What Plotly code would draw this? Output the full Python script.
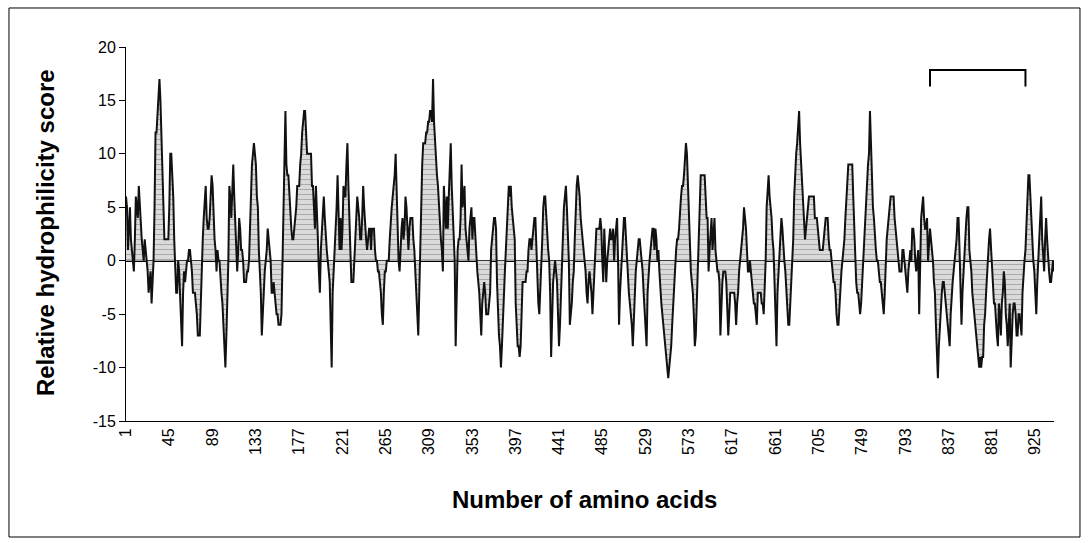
import plotly.graph_objects as go

# Relative hydrophilicity score per residue, in blocks
score_001_070 = [6, 5, 1, 3, 5, 2, 1, 0, -1, 2,
                 6, 5, 4, 7, 5, 4, 2, 1, 0, 2,
                 1, 0, -1, -3, -2, -1, -4, -2, 0, 5,
                 12, 12, 14, 15, 17, 15, 12, 9, 6, 2,
                 2, 2, 2, 2, 5, 10, 10, 8, 6, 2,
                 -2, -3, -3, 0, -1, -3, -5, -8, -3, -1,
                 -2, -1, 0, 0, 1, 1, 0, -1, -3, -3]
score_071_150 = [-3, -4, -5, -7, -7, -7, -4, 0, 2, 4,
                 6, 7, 4, 3, 3, 4, 6, 8, 7, 4,
                 2, 1, -1, 1, 0, 0, -2, -3, -4, -6,
                 -8, -10, -7, -4, 0, 7, 6, 4, 7, 9,
                 6, 4, 1, -1, 1, 4, 3, 1, 1, 0,
                 -2, -2, -2, -1, -1, 0, 4, 8, 9, 10,
                 11, 10, 9, 6, 5, 1, -1, -3, -7, -5,
                 -2, -1, 0, 1, 3, 2, 1, 0, -3, -3]
score_151_229 = [-2, -3, -4, -5, -5, -6, -6, -6, -5, 0,
                 5, 10, 14, 9, 8, 8, 6, 4, 3, 2,
                 2, 3, 4, 5, 7, 7, 7, 9, 10, 12,
                 13, 14, 14, 11, 10, 10, 10, 10, 10, 7,
                 7, 5, 3, 7, 5, 2, -1, -3, 1, 3,
                 5, 6, 4, 2, 1, 0, -1, -2, -6, -10,
                 -3, -1, 0, 2, 5, 8, 3, 1, 4, 1,
                 3, 7, 6, 6, 9, 11, 7, 3, -1]
score_230_311 = [-2, -2, -2, 0, 2, 3, 6, 5, 4, 2,
                 2, 4, 7, 5, 3, 2, 1, 2, 3, 3,
                 1, 3, 3, 3, 1, 0, 0, -1, -1, -2,
                 -3, -5, -6, -3, -1, -1, 0, 0, 0, 2,
                 4, 5, 6, 7, 8, 10, 6, 4, 0, -1,
                 2, 3, 4, 2, 3, 6, 5, 3, 1, 3,
                 4, 4, 4, 2, 1, -1, -3, -5, -7, -3,
                 0, 5, 9, 11, 11, 11, 12, 12, 13, 13, 14, 14]
score_312_391 = [13, 17, 13, 11, 9, 8, 7, 5, 4, 2,
                 1, -1, 7, 4, 3, 6, 3, 6, 9, 11,
                 7, 4, 1, 0, -8, -2, 1, 2, 2, 4,
                 9, 5, 6, 7, 3, 2, 1, 0, 3, 4,
                 5, 2, 4, 4, 2, 0, -1, -2, -3, -5,
                 -7, -4, -3, -2, -3, -5, -5, -5, -4, -3,
                 1, 2, 3, 4, 4, 3, -2, -5, -7, -8,
                 -10, -8, -5, -3, -1, 1, 3, 5, 7, 6]
score_392_471 = [7, 5, 4, 3, 2, -4, -6, -8, -8, -9,
                 -8, -5, -2, -2, -2, -2, -1, -1, 1, 2,
                 2, 1, 2, 3, 4, 4, 1, -1, -4, -5,
                 -3, 0, 2, 5, 6, 6, 4, 3, 1, 0,
                 -3, -9, -4, -2, -1, 0, -1, -2, -5, -8,
                 -6, -3, 0, 3, 5, 6, 7, 5, 2, 0,
                 -6, -5, -4, -2, -1, 2, 5, 7, 8, 7,
                 6, 4, 3, 2, 1, 0, -1, -3, -4, -2]
score_472_552 = [-1, -2, -3, -5, -3, -1, 1, 3, 3, 3,
                 3, 4, 3, 0, -2, 3, 0, -2, 0, 1,
                 2, 3, 2, 2, 3, 0, 2, 3, 4, 0,
                 -6, -3, -1, 1, 3, 4, 4, 2, 0, -2,
                 -3, -4, -5, -6, -8, -5, -2, -1, 0, 1,
                 2, 2, 1, 0, -1, -3, -5, -6, -8, -3,
                 -1, 0, 1, 2, 3, 3, 1, 3, 2, 0,
                 1, -1, -3, -4, -5, -6, -7, -8, -9, -10, -11]
score_553_633 = [-10, -9, -8, -6, -4, -3, -1, 1, 2, 2,
                 3, 5, 6, 7, 7, 8, 10, 11, 10, 7,
                 4, 1, -1, -2, -3, -5, -8, -7, -3, -1,
                 2, 5, 8, 8, 8, 8, 8, 6, 4, 4,
                 -1, 1, 3, 4, 1, 3, 4, 1, 0, -1,
                 -1, -2, -7, -3, -2, -1, -1, -1, -2, -4,
                 -7, -5, -3, -3, -3, -3, -3, -4, -6, -4,
                 -3, -1, 0, 1, 2, 3, 5, 4, 3, 1, -1]
score_634_713 = [-1, 0, -1, -2, -3, -4, -4, -5, -6, -3,
                 -3, -3, -3, -4, -4, -5, -3, 0, 5, 7,
                 8, 6, 5, 4, 2, 1, -2, -5, -8, -3,
                 -1, 1, 2, 4, 3, 1, 0, -1, -3, -5,
                 -6, -6, -4, -2, 0, 2, 6, 9, 10, 11,
                 13, 14, 11, 9, 7, 5, 3, 2, 3, 4,
                 5, 6, 6, 6, 6, 6, 6, 4, 4, 4,
                 3, 2, 1, 1, 1, 1, 2, 3, 4, 4]
score_714_794 = [4, 2, 1, 1, 0, -1, -2, -2, -3, -5,
                 -6, -6, -4, -2, -1, 0, 1, 2, 4, 6,
                 8, 9, 9, 9, 9, 9, 6, 3, 0, -2,
                 -3, -3, -4, -5, -4, -2, 0, 1, 4, 6,
                 7, 9, 10, 14, 11, 7, 5, 4, 2, 1,
                 0, 0, -1, -2, -2, -3, -4, -5, -3, 0,
                 2, 3, 4, 5, 6, 6, 6, 6, 4, 3,
                 2, 1, 0, -1, -1, -1, 1, 1, 0, -1, -2]
score_795_873 = [-3, -1, 0, 1, 0, 3, 3, 2, 0, -1,
                 0, 1, -5, 2, 4, 5, 6, 4, 3, 3,
                 4, 0, 2, 3, 2, 1, 0, -2, -3, -6,
                 -8, -11, -8, -6, -4, -3, -2, -2, -3, -4,
                 -5, -6, -7, -8, -5, -3, -2, -1, 0, 1,
                 2, 4, 4, 1, -3, -6, -3, -1, 0, 3,
                 4, 5, 5, 1, 0, -1, -3, -4, -5, -6,
                 -7, -8, -9, -10, -9, -10, -9, -9, -6]
score_874_944 = [-5, -3, -1, 1, 2, 3, 1, -1, -2, -4,
                 -4, -6, -7, -8, -4, -5, -7, -4, -3, -1,
                 -2, -5, -6, -8, -6, -4, -10, -6, -5, -4,
                 -4, -5, -7, -7, -5, -5, -6, -7, -3, -1,
                 0, 1, 3, 6, 8, 8, 6, 3, 1, 0,
                 -1, -3, -5, -2, 0, 2, 4, 6, 2, 0,
                 -1, 2, 4, 2, 0, -1, -2, -2, -1, 0, -1]

scores = (score_001_070 + score_071_150 + score_151_229 + score_230_311 +
          score_312_391 + score_392_471 + score_472_552 + score_553_633 +
          score_634_713 + score_714_794 + score_795_873 + score_874_944)
residues = list(range(1, len(scores) + 1))

x_ticks = list(range(1, 926, 44))
y_ticks = [-15, -10, -5, 0, 5, 10, 15, 20]
y_ticktext = ["-15", "-10", "-5", "0", "5", "10", "15", "20"]
bracket_start, bracket_end = 818, 915
bracket_top, bracket_foot = 17.85, 16.3

FONT = "Liberation Sans, Arial, sans-serif"

fig = go.Figure()
fig.add_trace(go.Scatter(
    x=residues, y=scores, mode="lines",
    line=dict(color="#111111", width=2),
    fill="tozeroy",
    fillcolor="#d0d0d0",
    fillpattern=dict(shape="-", fgcolor="#7a7a7a", bgcolor="#dadada",
                     size=5, solidity=0.2),
    hoverinfo="x+y",
    showlegend=False,
))

fig.update_layout(
    width=1088, height=543,
    margin=dict(l=126, r=34, t=47, b=122),
    paper_bgcolor="white", plot_bgcolor="white",
    font=dict(family=FONT, size=16, color="black"),
    xaxis=dict(
        range=[1, len(scores)],
        tickmode="array", tickvals=x_ticks, ticktext=[str(v) for v in x_ticks],
        tickangle=-90, ticks="", showgrid=False, zeroline=False,
        showline=True, linecolor="black", linewidth=1,
        tickfont=dict(size=16, family=FONT),
    ),
    yaxis=dict(
        range=[-15, 20],
        tickmode="array", tickvals=y_ticks, ticktext=y_ticktext,
        ticks="outside", ticklen=6, tickcolor="black",
        showgrid=False, showline=True, linecolor="black", linewidth=1,
        zeroline=True, zerolinecolor="black", zerolinewidth=1.8,
        tickfont=dict(size=16, family=FONT),
    ),
    shapes=[
        dict(type="path", xref="x", yref="y",
             path=f"M {bracket_start},{bracket_foot} L {bracket_start},{bracket_top} "
                  f"L {bracket_end},{bracket_top} L {bracket_end},{bracket_foot}",
             line=dict(color="black", width=2)),
        dict(type="rect", xref="paper", yref="paper",
             x0=-0.1261, x1=1.028, y0=-0.3102, y1=1.1043,
             line=dict(color="black", width=1), fillcolor="rgba(0,0,0,0)"),
    ],
    annotations=[
        dict(text="<b>Relative hydrophilicity score</b>", xref="paper", yref="paper",
             x=-0.0873, y=0.505, textangle=-90, showarrow=False,
             font=dict(size=24, family=FONT), xanchor="center", yanchor="middle"),
        dict(text="<b>Number of amino acids</b>", xref="paper", yref="paper",
             x=0.4946, y=-0.211, showarrow=False,
             font=dict(size=24, family=FONT), xanchor="center", yanchor="middle"),
    ],
)

fig.write_html("out.html")
